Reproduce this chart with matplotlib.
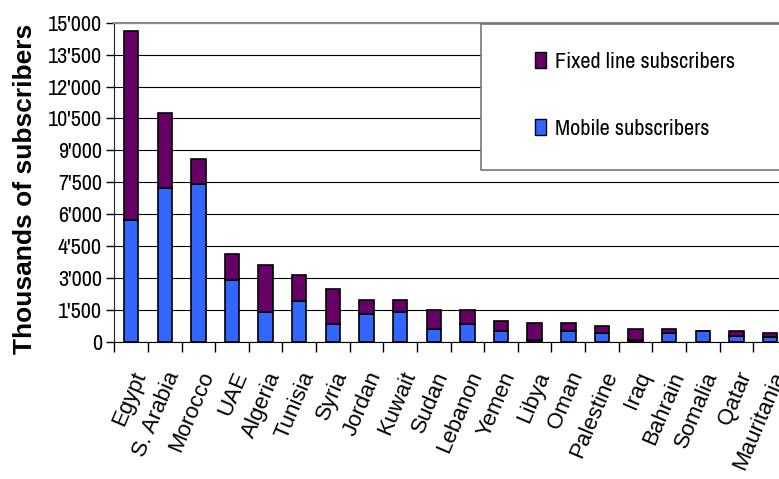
import matplotlib
matplotlib.use('Agg')
import matplotlib.pyplot as plt
import numpy as np
from matplotlib.ticker import FuncFormatter, FixedLocator
from matplotlib.patches import Rectangle, Patch
from matplotlib import font_manager as fm

countries = ['Egypt', 'S. Arabia', 'Morocco', 'UAE', 'Algeria', 'Tunisia', 'Syria',
             'Jordan', 'Kuwait', 'Sudan', 'Lebanon', 'Yemen', 'Libya', 'Oman',
             'Palestine', 'Iraq', 'Bahrain', 'Somalia', 'Qatar', 'Mauritania']
mobile = [5750, 7250, 7400, 2900, 1400, 1930, 850, 1300, 1400, 600,
          860, 520, 100, 500, 400, 80, 400, 500, 270, 240]
fixed_line = [8850, 3500, 1200, 1220, 2200, 1220, 1650, 650, 550, 920,
              660, 450, 770, 370, 350, 550, 230, 20, 250, 180]
y_ticks = [0, 1500, 3000, 4500, 6000, 7500, 9000, 10500, 12000, 13500, 15000]

purple = '#660066'
blue = '#3366ff'

# narrow font like Arial Narrow, whichever is around
installed = set(f.name for f in fm.fontManager.ttflist)
narrow = [f for f in ['Liberation Sans Narrow', 'Archivo Narrow', 'Liberation Sans'] if f in installed]
narrow.append('DejaVu Sans')
regular = ['Liberation Sans', 'DejaVu Sans']

W, H = 779, 479
fig = plt.figure(figsize=(W / 100, H / 100), dpi=100)
# axes runs past the right edge like in the original (clipped)
ax = fig.add_axes([114.3 / W, 1 - 342 / H, (786.9 - 114.3) / W, (342 - 22.7) / H])

x = np.arange(len(countries))
ax.bar(x, mobile, width=0.43, color=blue, edgecolor='black', linewidth=1.2, zorder=3)
ax.bar(x, fixed_line, width=0.43, bottom=mobile, color=purple, edgecolor='black',
       linewidth=1.2, zorder=3)

ax.set_xlim(-0.5, len(countries) - 0.5)
ax.set_ylim(0, 15000)
ax.set_yticks(y_ticks)
ax.yaxis.set_major_formatter(FuncFormatter(lambda v, p: f"{int(v):,}".replace(',', "'")))
ax.grid(axis='y', color='black', linewidth=0.8, zorder=0)
ax.set_axisbelow(True)

for lab in ax.get_yticklabels():
    lab.set_family(narrow)
    lab.set_fontsize(16)
ax.tick_params(axis='y', length=6, width=1, pad=3)

# labels at the centres, tick marks at category boundaries
ax.set_xticks(x)
ax.set_xticklabels(countries, rotation=67, ha='right', va='top',
                   rotation_mode='anchor', fontsize=16, family=regular)
ax.tick_params(axis='x', which='major', length=0, pad=19)
ax.xaxis.set_minor_locator(FixedLocator(np.arange(-0.5, len(countries), 1.0)))
ax.tick_params(axis='x', which='minor', length=7, width=1)

ax.spines['top'].set_color('#888888')
ax.spines['top'].set_linewidth(1.5)
ax.spines['right'].set_visible(False)
ax.spines['left'].set_color('#222222')

ax.set_ylabel('Thousands of subscribers', fontsize=19, fontweight='bold', family=regular)
ax.yaxis.set_label_coords(-0.115, 0.479)

# legend box
fig.patches.append(Rectangle((481 / W, 1 - 170 / H), 0.5, (170 - 24.3) / H,
                             transform=fig.transFigure, facecolor='white',
                             edgecolor='#777777', linewidth=1.2, zorder=5))
handles = [Patch(facecolor=purple, edgecolor='black', label='Fixed line subscribers'),
           Patch(facecolor=blue, edgecolor='black', label='Mobile subscribers')]
leg = fig.legend(handles=handles, loc='upper left', bbox_to_anchor=(515 / W, 1 - 32 / H),
                 frameon=False, handlelength=0.5, handleheight=0.75, handletextpad=0.4,
                 labelspacing=2.1, prop={'family': narrow, 'size': 16})
leg.set_zorder(6)

plt.savefig('out.png', dpi=100)
